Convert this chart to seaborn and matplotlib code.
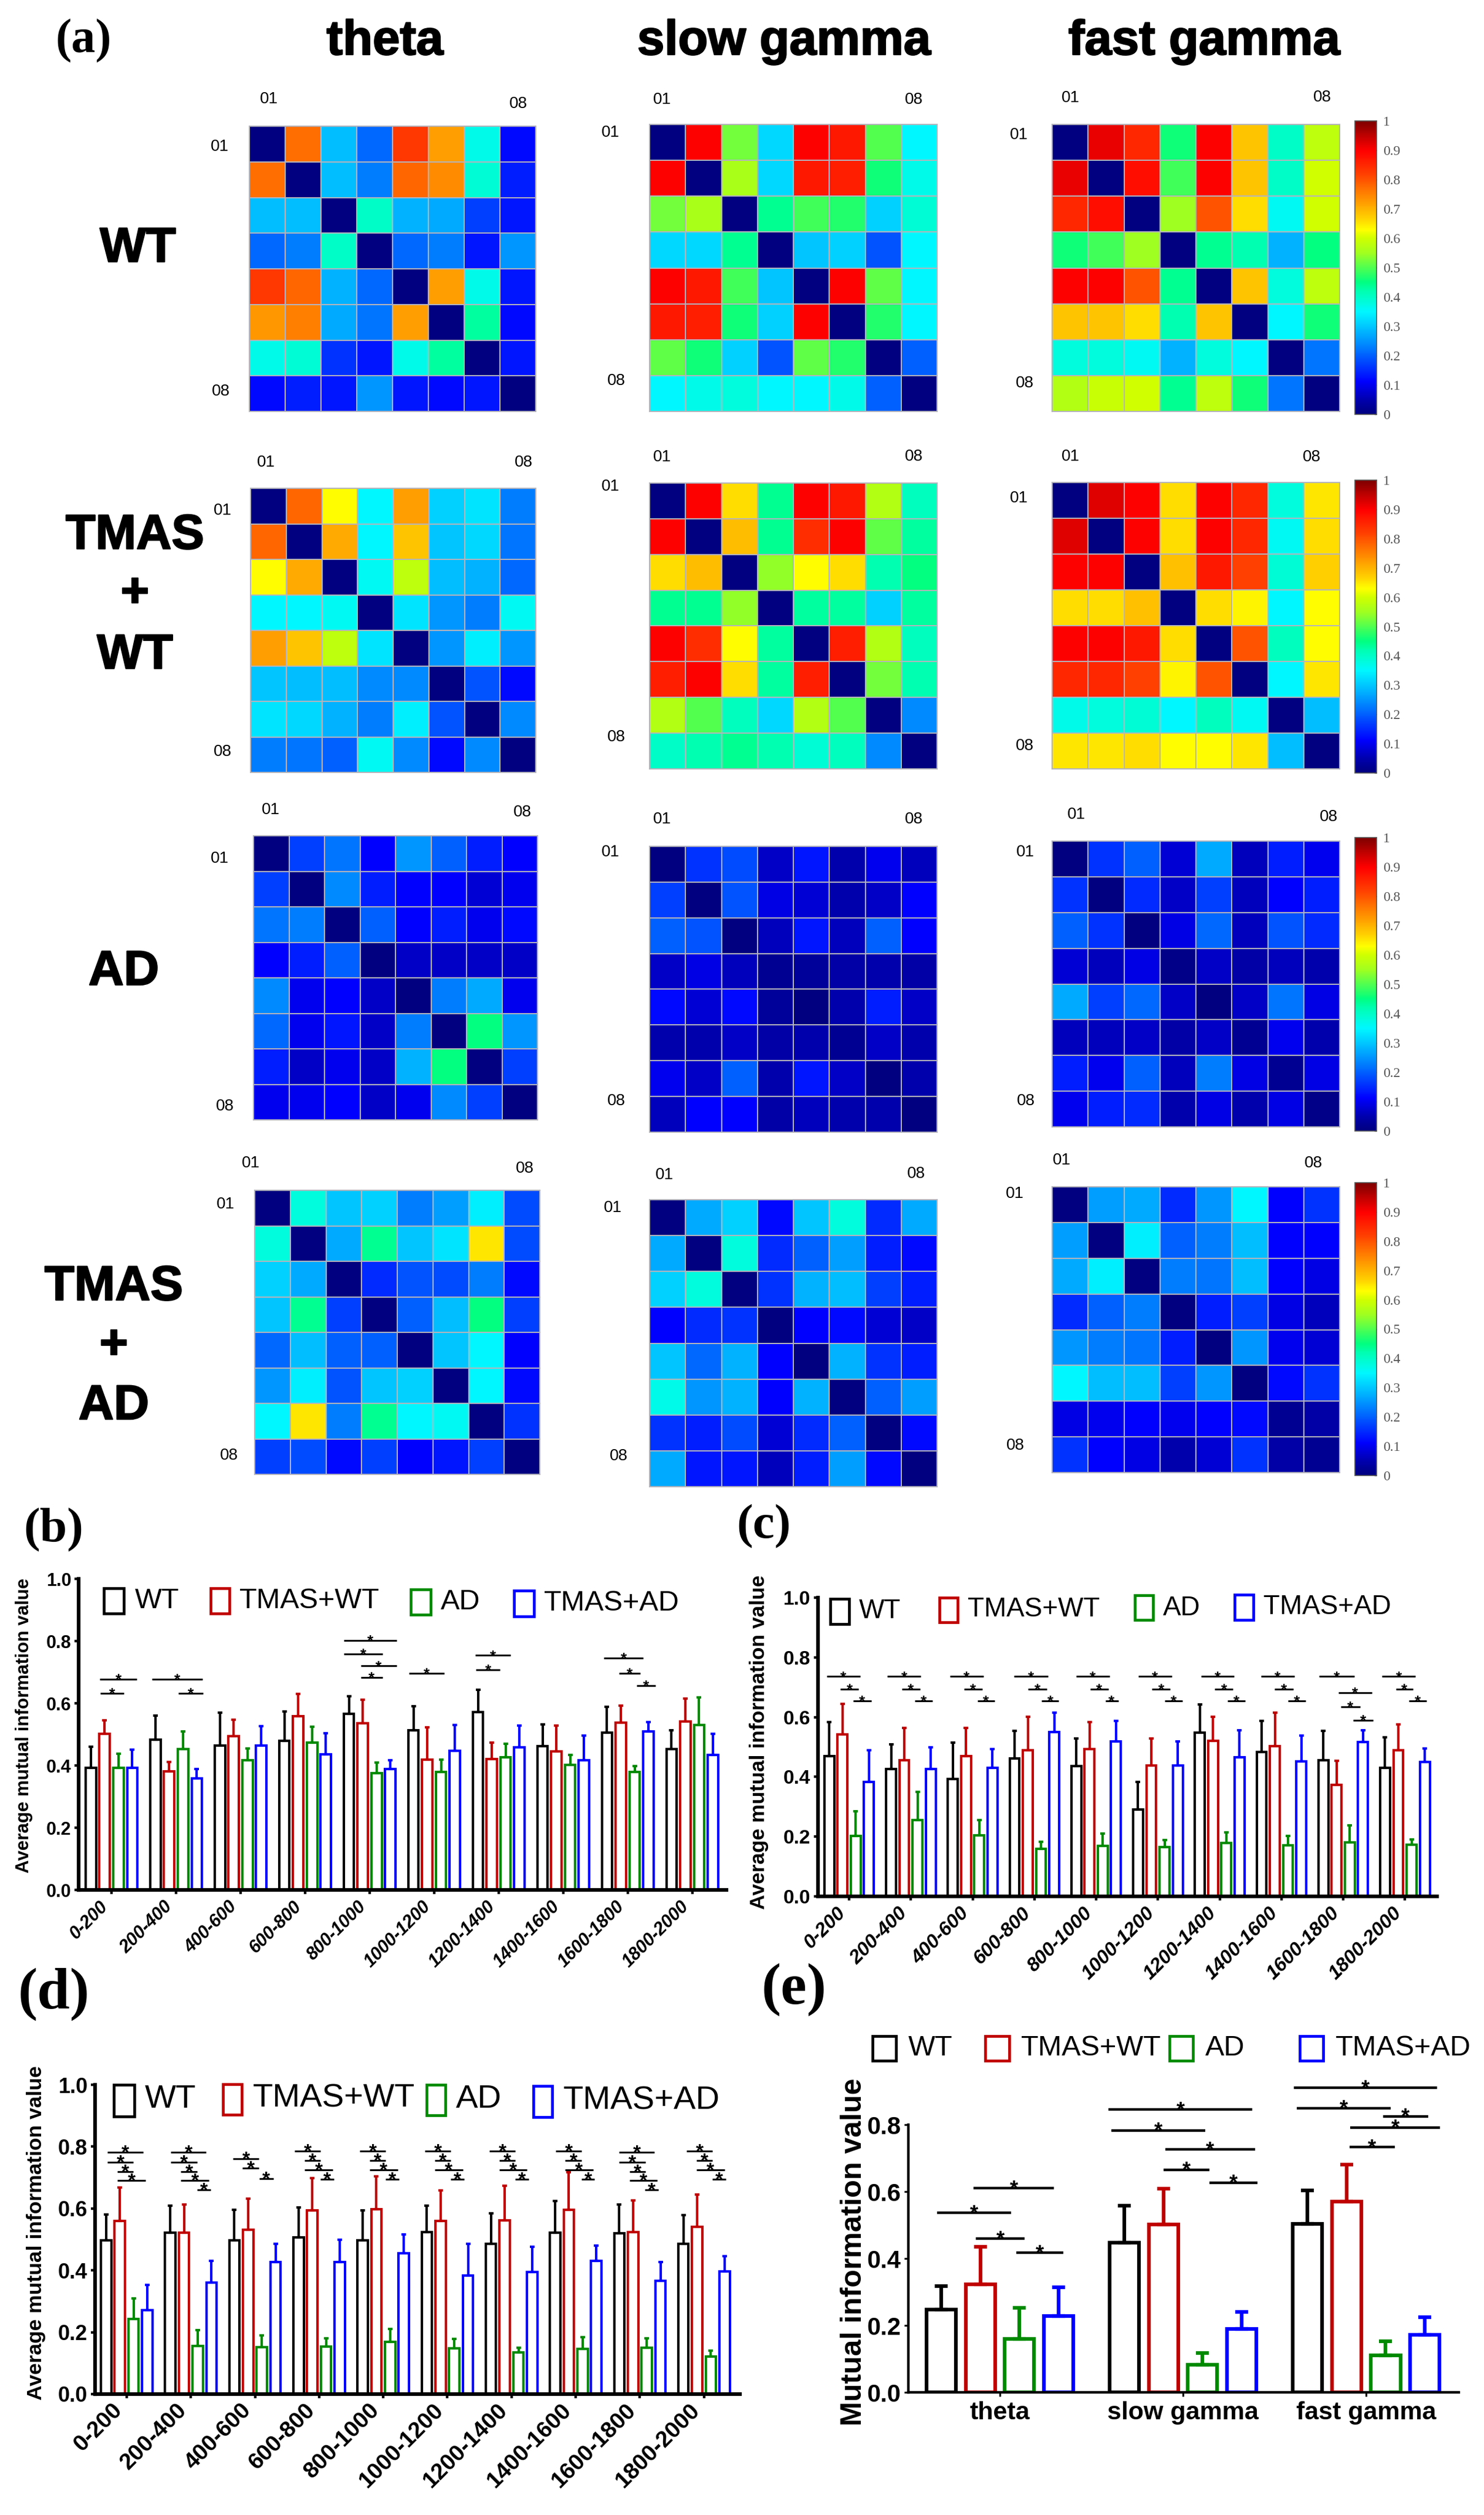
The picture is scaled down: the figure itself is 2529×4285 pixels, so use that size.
import matplotlib.pyplot as plt
import matplotlib.patheffects as pe
import numpy as np
import pandas as pd
import seaborn as sns
from matplotlib.colors import LinearSegmentedColormap
from matplotlib.patches import Rectangle
from matplotlib.transforms import Affine2D

W, H = 2529, 4285

# mutual information matrices
theta_wt = [
    [0, .77, .29, .21, .83, .72, .37, .12],
    [.77, 0, .29, .23, .78, .74, .39, .14],
    [.29, .29, 0, .40, .28, .27, .17, .13],
    [.21, .23, .40, 0, .21, .23, .13, .25],
    [.83, .78, .28, .21, 0, .72, .37, .13],
    [.73, .75, .27, .22, .72, 0, .43, .12],
    [.37, .39, .16, .13, .37, .43, 0, .13],
    [.12, .14, .13, .25, .13, .12, .13, 0],
]
slow_wt = [
    [0, .90, .52, .32, .90, .87, .50, .35],
    [.90, 0, .56, .32, .87, .86, .46, .37],
    [.52, .56, 0, .44, .49, .47, .31, .39],
    [.32, .32, .44, 0, .30, .31, .19, .35],
    [.90, .87, .49, .30, 0, .90, .51, .35],
    [.87, .86, .46, .31, .90, 0, .47, .35],
    [.51, .46, .31, .19, .51, .47, 0, .20],
    [.35, .37, .38, .35, .35, .37, .20, 0],
]
fast_wt = [
    [0, .915, .85, .46, .90, .68, .40, .58],
    [.915, 0, .88, .49, .90, .68, .40, .60],
    [.85, .88, 0, .55, .80, .66, .36, .60],
    [.46, .49, .55, 0, .44, .42, .28, .45],
    [.90, .90, .80, .44, 0, .68, .38, .58],
    [.68, .68, .66, .42, .68, 0, .35, .46],
    [.38, .38, .36, .28, .38, .35, 0, .22],
    [.57, .59, .60, .44, .58, .46, .22, 0],
]
theta_tmas_wt = [
    [0, .78, .63, .35, .72, .31, .33, .23],
    [.78, 0, .71, .35, .68, .30, .32, .22],
    [.63, .71, 0, .36, .58, .29, .28, .21],
    [.35, .35, .36, 0, .33, .25, .23, .36],
    [.72, .68, .58, .33, 0, .25, .34, .25],
    [.30, .29, .29, .24, .24, 0, .19, .12],
    [.33, .32, .28, .23, .34, .19, 0, .24],
    [.23, .22, .20, .36, .24, .12, .24, 0],
]
slow_tmas_wt = [
    [0, .90, .66, .44, .90, .87, .57, .41],
    [.90, 0, .69, .44, .84, .90, .51, .43],
    [.66, .69, 0, .54, .63, .66, .42, .45],
    [.44, .44, .54, 0, .43, .43, .31, .43],
    [.90, .84, .63, .43, 0, .86, .57, .41],
    [.86, .90, .66, .43, .86, 0, .52, .42],
    [.57, .50, .41, .32, .57, .50, 0, .24],
    [.40, .42, .44, .42, .39, .41, .24, 0],
]
fast_tmas_wt = [
    [0, .925, .90, .66, .90, .85, .38, .65],
    [.925, 0, .90, .66, .90, .85, .36, .66],
    [.90, .90, 0, .685, .87, .82, .39, .67],
    [.66, .66, .685, 0, .66, .64, .35, .63],
    [.90, .90, .87, .66, 0, .80, .41, .63],
    [.85, .85, .82, .64, .80, 0, .35, .65],
    [.37, .38, .39, .35, .41, .36, 0, .29],
    [.65, .65, .66, .63, .63, .65, .29, 0],
]
theta_ad = [
    [0, .17, .22, .11, .25, .20, .14, .11],
    [.17, 0, .24, .14, .11, .11, .08, .10],
    [.22, .23, 0, .20, .11, .14, .10, .12],
    [.11, .14, .20, 0, .07, .07, .07, .07],
    [.24, .10, .11, .07, 0, .23, .27, .10],
    [.21, .10, .13, .07, .23, 0, .45, .25],
    [.14, .07, .10, .07, .28, .45, 0, .17],
    [.10, .10, .11, .07, .10, .24, .17, 0],
]
slow_ad = [
    [0, .16, .18, .07, .13, .05, .10, .06],
    [.17, 0, .19, .09, .08, .05, .07, .11],
    [.20, .19, 0, .06, .13, .06, .20, .11],
    [.07, .09, .06, .02, .03, .04, .05, .04],
    [.12, .08, .12, .03, 0, .05, .14, .07],
    [.05, .05, .07, .04, .05, .02, .07, .05],
    [.10, .07, .20, .05, .13, .07, 0, .05],
    [.06, .11, .11, .04, .06, .05, .05, 0],
]
fast_ad = [
    [0, .16, .20, .08, .27, .06, .14, .10],
    [.16, 0, .15, .07, .17, .06, .11, .14],
    [.20, .16, 0, .09, .21, .06, .19, .15],
    [.08, .06, .09, .01, .07, .04, .06, .05],
    [.27, .17, .21, .07, 0, .07, .22, .09],
    [.06, .06, .07, .04, .07, .02, .10, .05],
    [.14, .10, .20, .06, .23, .09, .02, .09],
    [.10, .14, .15, .05, .09, .05, .09, .01],
]
theta_tmas_ad = [
    [0, .38, .30, .31, .23, .26, .34, .18],
    [.38, 0, .27, .44, .30, .33, .65, .18],
    [.31, .27, 0, .15, .19, .18, .23, .12],
    [.30, .44, .17, 0, .20, .29, .45, .17],
    [.21, .29, .20, .20, 0, .30, .35, .11],
    [.25, .34, .19, .30, .31, 0, .35, .12],
    [.35, .65, .23, .44, .35, .36, 0, .16],
    [.17, .18, .12, .17, .11, .13, .17, 0],
]
slow_tmas_ad = [
    [0, .27, .31, .12, .30, .38, .15, .27],
    [.27, 0, .38, .15, .20, .26, .14, .12],
    [.31, .38, 0, .16, .28, .29, .17, .14],
    [.11, .15, .16, 0, .11, .12, .08, .07],
    [.30, .21, .28, .11, 0, .28, .16, .14],
    [.37, .25, .28, .11, .28, 0, .20, .26],
    [.16, .14, .18, .08, .15, .20, 0, .12],
    [.27, .13, .13, .06, .14, .26, .12, 0],
]
fast_tmas_ad = [
    [0, .26, .27, .15, .25, .35, .11, .16],
    [.26, 0, .34, .20, .23, .29, .11, .11],
    [.27, .34, 0, .23, .22, .29, .11, .09],
    [.15, .20, .23, 0, .14, .17, .09, .06],
    [.25, .23, .22, .14, 0, .25, .10, .08],
    [.35, .29, .29, .17, .25, 0, .12, .16],
    [.09, .10, .11, .10, .11, .12, .02, .04],
    [.16, .11, .09, .05, .08, .16, .04, .02],
]

groups = ["WT", "TMAS+WT", "AD", "TMAS+AD"]
group_colors = ["#000000", "#c00000", "#008a00", "#0000ff"]
bins = ["0-200", "200-400", "400-600", "600-800", "800-1000", "1000-1200",
        "1200-1400", "1400-1600", "1600-1800", "1800-2000"]
bands = ["theta", "slow gamma", "fast gamma"]

# bar heights and the top of each error bar
b_mean = [[.393, .502, .393, .393], [.483, .382, .452, .358], [.464, .495, .417, .464],
          [.479, .558, .474, .436], [.566, .535, .376, .388], [.513, .419, .379, .447],
          [.571, .421, .426, .459], [.463, .446, .402, .417], [.506, .537, .379, .510],
          [.453, .541, .530, .434]]
b_top = [[.461, .546, .438, .451], [.560, .412, .510, .388], [.569, .548, .454, .527],
         [.573, .631, .525, .504], [.622, .611, .410, .417], [.590, .522, .418, .530],
         [.643, .473, .469, .528], [.532, .528, .434, .496], [.588, .593, .399, .539],
         [.514, .615, .619, .501]]
c_mean = [[.470, .542, .203, .384], [.426, .455, .256, .426], [.393, .469, .205, .430],
          [.461, .489, .159, .550], [.437, .493, .168, .519], [.291, .438, .165, .438],
          [.548, .521, .178, .465], [.483, .503, .170, .452], [.456, .373, .180, .516],
          [.430, .489, .173, .449]]
c_top = [[.583, .644, .284, .489], [.509, .564, .349, .500], [.514, .563, .256, .494],
         [.555, .601, .183, .614], [.528, .583, .211, .587], [.383, .528, .188, .519],
         [.642, .602, .214, .556], [.588, .614, .203, .538], [.555, .453, .237, .556],
         [.532, .575, .191, .496]]
d_mean = [[.497, .559, .242, .271], [.521, .521, .155, .360], [.497, .531, .152, .426],
          [.507, .594, .154, .427], [.497, .598, .168, .455], [.524, .560, .148, .384],
          [.485, .562, .134, .394], [.522, .595, .147, .430], [.519, .524, .149, .366],
          [.485, .541, .122, .397]]
d_top = [[.580, .668, .309, .353], [.610, .613, .207, .430], [.595, .632, .189, .485],
         [.604, .699, .181, .499], [.593, .704, .211, .517], [.610, .658, .179, .485],
         [.584, .673, .150, .477], [.624, .718, .184, .481], [.612, .626, .181, .427],
         [.579, .645, .140, .446]]
e_mean = [[.247, .322, .159, .228], [.447, .502, .083, .190], [.504, .571, .110, .172]]
e_top = [[.317, .435, .253, .314], [.558, .608, .117, .240], [.603, .681, .153, .225]]

# significance lines: start, end, height
b_links = [(-.18, .39, .678), (-.17, .19, .632), (.63, 1.41, .678), (1.04, 1.42, .632),
           (3.60, 4.42, .802), (3.60, 4.20, .759), (3.86, 4.42, .720), (3.86, 4.20, .683),
           (4.61, 5.16, .696), (5.64, 6.18, .754), (5.65, 6.02, .708), (7.63, 8.24, .745),
           (7.87, 8.19, .696), (8.14, 8.43, .657)]
c_links = [(-.364, .178, .736), (-.14, .155, .693), (.07, .357, .655),
           (.62, 1.163, .736), (.853, 1.147, .693), (1.062, 1.349, .655),
           (1.636, 2.171, .736), (1.86, 2.155, .693), (2.078, 2.357, .655),
           (2.674, 3.217, .736), (2.899, 3.202, .693), (3.116, 3.395, .655),
           (3.674, 4.217, .736), (3.9, 4.2, .693), (4.147, 4.357, .655),
           (4.682, 5.225, .736), (4.907, 5.2, .693), (5.116, 5.395, .655),
           (5.7, 6.233, .736), (5.922, 6.217, .693), (6.13, 6.411, .655),
           (6.667, 7.209, .736), (6.891, 7.194, .693), (7.109, 7.388, .655),
           (7.612, 8.178, .736), (7.922, 8.465, .682), (7.96, 8.271, .635), (8.163, 8.488, .590),
           (8.628, 9.171, .736), (8.853, 9.132, .693), (9.062, 9.349, .655)]
d_links = [(-.299, .254, .782), (-.299, .104, .750), (-.142, .104, .720), (-.142, .291, .690),
           (.687, 1.239, .782), (.687, 1.097, .750), (.843, 1.097, .720), (.843, 1.284, .690),
           (1.097, 1.306, .661),
           (1.657, 2.06, .761), (1.806, 2.06, .731), (2.067, 2.284, .697),
           (2.619, 3.022, .786), (2.776, 3.022, .756), (2.776, 3.209, .725), (3.022, 3.231, .694),
           (3.634, 4.037, .786), (3.784, 4.037, .756), (3.784, 4.224, .725), (4.037, 4.246, .694),
           (4.649, 5.052, .786), (4.799, 5.052, .756), (4.799, 5.239, .725), (5.052, 5.261, .694),
           (5.657, 6.06, .786), (5.806, 6.06, .756), (5.806, 6.239, .725), (6.06, 6.269, .694),
           (6.687, 7.09, .786), (6.836, 7.09, .756), (6.836, 7.269, .725), (7.09, 7.291, .694),
           (7.679, 8.224, .782), (7.679, 8.09, .750), (7.836, 8.09, .720), (7.836, 8.269, .690),
           (8.082, 8.291, .661),
           (8.731, 9.134, .786), (8.881, 9.134, .756), (8.881, 9.321, .725), (9.134, 9.343, .694)]
e_links = [(-.342, .06, .536), (-.145, .296, .61), (-.132, .135, .459), (.091, .345, .417),
           (.594, 1.377, .845), (.61, 1.123, .783), (.903, 1.393, .726), (.895, 1.144, .665),
           (1.144, 1.406, .627),
           (1.606, 2.389, .91), (1.621, 2.135, .849), (1.912, 2.405, .792), (1.909, 2.156, .733),
           (2.091, 2.34, .825)]

mi_cmap = LinearSegmentedColormap.from_list("mi", [
    (0, "#000080"), (.05, "#0000b0"), (.11, "#0000ff"), (.2, "#0060ff"), (.26, "#00a0ff"),
    (.35, "#00f8ff"), (.42, "#00ffb0"), (.45, "#00ff80"), (.5, "#50ff50"), (.55, "#a0ff20"),
    (.6, "#d0ff00"), (.63, "#ffff00"), (.67, "#ffd000"), (.72, "#ffa000"), (.77, "#ff7000"),
    (.82, "#ff4000"), (.9, "#ff0000"), (1, "#800000"),
])

sns.set_style("ticks", rc={"axes.edgecolor": "black", "xtick.color": "black", "ytick.color": "black",
                           "text.color": "black", "axes.labelcolor": "black"})
plt.rcParams["font.family"] = "Liberation Sans"

fig = plt.figure(figsize=(W / 100, H / 100), dpi=100)
# everything below is placed in picture pixels, y going down
px = Affine2D().scale(1 / W, -1 / H).translate(0, 1) + fig.transFigure
heavy = [pe.withStroke(linewidth=1.6, foreground="black")]


def add_axes(x0, y0, x1, y1):
    return fig.add_axes([x0 / W, 1 - y1 / H, (x1 - x0) / W, (y1 - y0) / H])


def label(x, y, text, size, **kwargs):
    kwargs.setdefault("ha", "center")
    kwargs.setdefault("va", "center")
    fig.text(x, y, text, fontsize=size, transform=px, **kwargs)


def draw_matrix(values, box, marks, cbar_box=None):
    ax = add_axes(*box)
    cbar_ax = add_axes(*cbar_box) if cbar_box else None
    sns.heatmap(values, vmin=0, vmax=1, cmap=mi_cmap, linewidths=1.1, linecolor="#b4b4bc",
                xticklabels=False, yticklabels=False, square=False, ax=ax,
                cbar=cbar_box is not None, cbar_ax=cbar_ax)
    for spine in ax.spines.values():
        spine.set_visible(True)
        spine.set_color("#b4b4bc")
        spine.set_linewidth(1.5)
    for (x, y), text in zip(marks, ["01", "08", "01", "08"]):
        label(x, y, text, 20)
    if cbar_box:
        cbar = ax.collections[0].colorbar
        cbar.set_ticks(np.arange(0, 1.01, .1))
        cbar.set_ticklabels(["0", "0.1", "0.2", "0.3", "0.4", "0.5", "0.6", "0.7", "0.8", "0.9", "1"])
        cbar.outline.set_edgecolor("#555555")
        cbar.outline.set_linewidth(1.2)
        cbar_ax.tick_params(direction="in", length=3, width=1, color="#333333", pad=8,
                            labelsize=17, labelcolor="#555555", labelfontfamily="Liberation Serif")


def draw_bars(box, names, means, tops, links, xlim, ylim, lw, err_lw, cap, spine_lw,
              y_size, x_size, star_size, link_lw, style="italic", rotation=45):
    ax = add_axes(*box)
    df = pd.DataFrame(means, columns=groups)
    df["bin"] = names
    df = df.melt(id_vars="bin", var_name="group", value_name="value")
    sns.barplot(data=df, x="bin", y="value", hue="group", hue_order=groups,
                palette=group_colors, fill=False, width=.856, gap=.25, linewidth=lw,
                errorbar=None, legend=False, ax=ax)

    tops = np.array(tops)
    means = np.array(means)
    # errorbar() appends to ax.containers, so take the bars first
    bar_sets = list(ax.containers)
    for i, bars in enumerate(bar_sets):
        xs = [b.get_x() + b.get_width() / 2 for b in bars]
        ax.errorbar(xs, means[:, i], yerr=[np.zeros(len(xs)), tops[:, i] - means[:, i]],
                    fmt="none", ecolor=group_colors[i], elinewidth=err_lw,
                    capsize=cap, capthick=err_lw)

    for x0, x1, y in links:
        ax.plot([x0, x1], [y, y], color="black", lw=link_lw, clip_on=False,
                solid_capstyle="butt")
        ax.annotate("*", ((x0 + x1) / 2, y), xytext=(0, -star_size * .32),
                    textcoords="offset points", ha="center", va="baseline",
                    fontsize=star_size, fontweight="bold", annotation_clip=False)

    ax.set_xlim(*xlim)
    ax.set_ylim(0, ylim)
    ax.set_yticks(np.arange(0, ylim + .01, .2))
    ax.set_yticklabels([f"{v:.1f}" for v in np.arange(0, ylim + .01, .2)],
                       fontsize=y_size, fontweight="bold")
    ax.set_xlabel("")
    ax.set_ylabel("")
    ax.set_xticks(range(len(names)))
    if rotation:
        ax.set_xticklabels(names, fontsize=x_size, fontweight="bold", fontstyle=style,
                           rotation=rotation, ha="right", va="bottom", rotation_mode="anchor")
    else:
        ax.set_xticklabels(names, fontsize=x_size, fontweight="bold")
    ax.tick_params(axis="both", width=spine_lw * .7, length=5, pad=4, color="black")
    ax.tick_params(axis="x", pad=20 if rotation else 6)
    ax.patch.set_alpha(0)
    sns.despine(ax=ax)
    for side in ["left", "bottom"]:
        ax.spines[side].set_linewidth(spine_lw)


def draw_legend(items, size):
    for (x0, y0, x1, y1, tx, ty), name, color in zip(items, groups, group_colors):
        fig.add_artist(Rectangle((x0, y0), x1 - x0, y1 - y0, transform=px, fill=False,
                                 edgecolor=color, linewidth=3.4))
        label(tx, ty, name, size, ha="left")


# (a) connectivity matrices
matrix_rows = [
    [theta_wt, slow_wt, fast_wt],
    [theta_tmas_wt, slow_tmas_wt, fast_tmas_wt],
    [theta_ad, slow_ad, fast_ad],
    [theta_tmas_ad, slow_tmas_ad, fast_tmas_ad],
]
matrix_boxes = [
    [(425, 215, 913, 701), (1107, 212, 1597, 701), (1793, 212, 2283, 701)],
    [(427, 832, 913, 1316), (1107, 823, 1597, 1310), (1793, 822, 2283, 1310)],
    [(432, 1424, 916, 1908), (1107, 1442, 1597, 1929), (1793, 1433, 2283, 1920)],
    [(434, 2028, 920, 2512), (1107, 2044, 1597, 2533), (1793, 2022, 2283, 2509)],
]
matrix_marks = [
    [[(458, 169), (883, 177), (374, 250), (376, 667)],
     [(1128, 170), (1557, 170), (1040, 226), (1050, 649)],
     [(1824, 167), (2253, 166), (1736, 230), (1746, 653)]],
    [[(453, 788), (892, 788), (379, 870), (379, 1281)],
     [(1128, 779), (1557, 778), (1040, 829), (1050, 1256)],
     [(1824, 778), (2235, 779), (1736, 849), (1746, 1271)]],
    [[(461, 1380), (890, 1384), (374, 1463), (383, 1885)],
     [(1128, 1396), (1557, 1396), (1040, 1452), (1050, 1876)],
     [(1834, 1388), (2264, 1392), (1747, 1452), (1748, 1876)]],
    [[(427, 1982), (894, 1991), (384, 2052), (390, 2480)],
     [(1132, 2002), (1561, 2000), (1044, 2058), (1054, 2481)],
     [(1809, 1977), (2238, 1982), (1729, 2034), (1730, 2463)]],
]
cbar_boxes = [(2309, 206, 2346, 706), (2309, 818, 2346, 1317),
              (2309, 1427, 2346, 1927), (2309, 2015, 2346, 2514)]

for r, row in enumerate(matrix_rows):
    for c, values in enumerate(row):
        draw_matrix(values, matrix_boxes[r][c], matrix_marks[r][c],
                    cbar_boxes[r] if c == 2 else None)

for x, name in zip([656, 1336, 2052], bands):
    label(x, 93, name, 60, fontweight="bold", va="baseline", path_effects=heavy)

for x, y, text in [(235, 424, "WT"), (230, 913, "TMAS"), (230, 1012, "+"), (230, 1117, "WT"),
                   (211, 1656, "AD"), (194, 2193, "TMAS"), (194, 2293, "+"), (194, 2396, "AD")]:
    label(x, y, text, 60, fontweight="bold", path_effects=heavy)

for x, y, text, size in [(142, 70, "(a)", 59), (91, 2607, "(b)", 60), (1302, 2601, "(c)", 60),
                         (92, 3398, "(d)", 72), (1353, 3390, "(e)", 72)]:
    label(x, y, text, size, fontweight="bold", family="Liberation Serif")

# (b) to (e) bar panels
draw_bars((134, 2690, 1238, 3220), bins, b_mean, b_top, b_links, (-.51, 9.53), 1.0,
          lw=3, err_lw=3, cap=3, spine_lw=4.5, y_size=22, x_size=22, star_size=19, link_lw=2.2)
draw_bars((1394, 2722, 2449, 3231), bins, c_mean, c_top, c_links, (-.504, 9.52), 1.0,
          lw=3, err_lw=3, cap=3, spine_lw=4.5, y_size=24, x_size=24, star_size=19, link_lw=2.2)
draw_bars((162, 3552, 1261, 4079), bins, d_mean, d_top, d_links, (-.493, 9.56), 1.0,
          lw=3, err_lw=3, cap=3, spine_lw=4.5, y_size=26, x_size=28, star_size=24, link_lw=2.2,
          style="normal")
draw_bars((1548, 3620, 2486, 4076), bands, e_mean, e_top, e_links, (-.5, 2.506), .8,
          lw=4.5, err_lw=4.5, cap=8, spine_lw=3.2, y_size=30, x_size=31, star_size=26, link_lw=3.2,
          rotation=0)

label(41, 2940, "Average mutual information value", 22.5, fontweight="bold", rotation=90)
label(1294, 2968, "Average mutual information value", 25.5, fontweight="bold", rotation=90)
label(62, 3804, "Average mutual information value", 25.5, fontweight="bold", rotation=90)
label(1455, 3837, "Mutual information value", 36, fontweight="bold", rotation=90)

draw_legend([(177, 2706, 211, 2749, 230, 2727), (359, 2706, 391, 2749, 408, 2727),
             (700, 2708, 734, 2751, 751, 2729), (876, 2710, 910, 2754, 927, 2732)], 35)
draw_legend([(1415, 2724, 1447, 2767, 1464, 2745), (1601, 2722, 1632, 2764, 1649, 2742),
             (1934, 2718, 1965, 2760, 1982, 2740), (2104, 2717, 2136, 2760, 2153, 2738)], 33)
draw_legend([(194, 3552, 229, 3606, 247, 3577), (380, 3551, 412, 3603, 431, 3575),
             (727, 3552, 759, 3604, 777, 3577), (909, 3554, 941, 3607, 960, 3580)], 40.5)
draw_legend([(1487, 3469, 1527, 3511, 1548, 3490), (1679, 3469, 1720, 3511, 1740, 3490),
             (1993, 3469, 2033, 3511, 2054, 3490), (2215, 3469, 2255, 3511, 2276, 3490)], 35)

fig.savefig("out.png", dpi=100)
